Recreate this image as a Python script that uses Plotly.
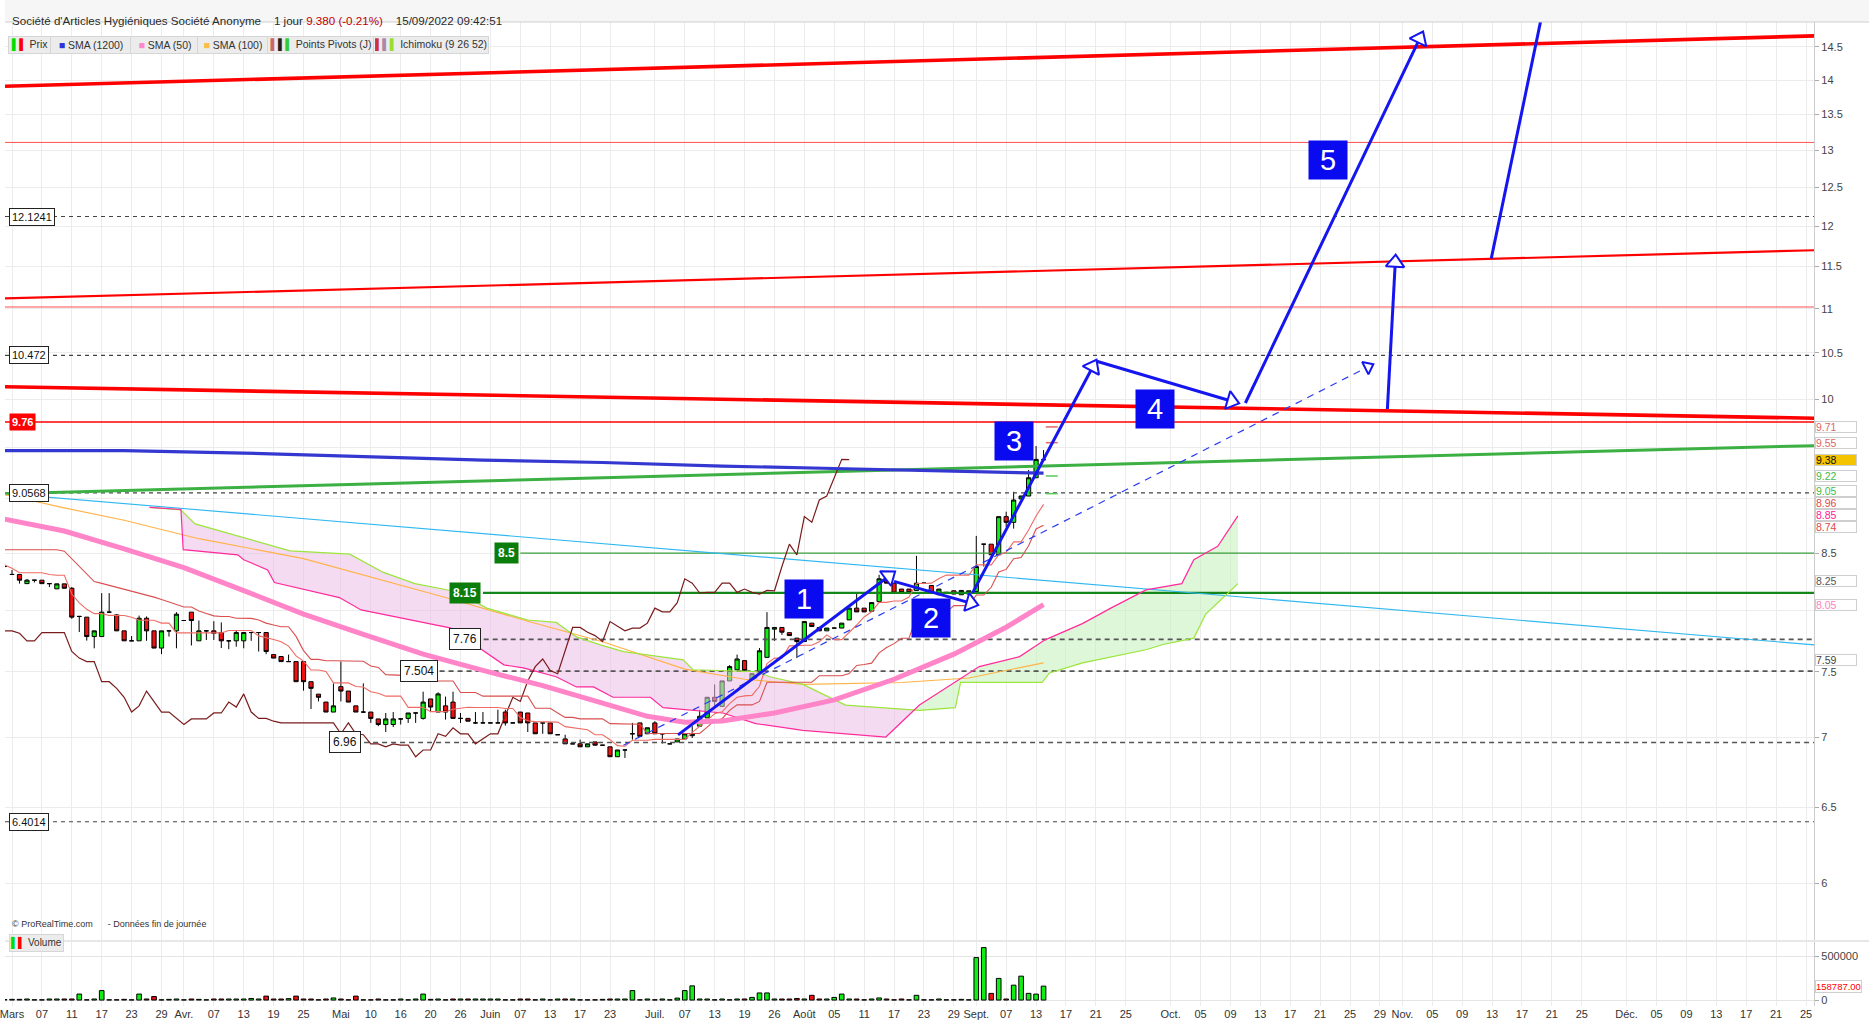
import numpy as np
import pandas as pd
import plotly.graph_objects as go

W, H = 1869, 1025

# ---------------- price data (one bar per trading session) ----------------
first_bar = -5
opens = [8.38, 8.31, 8.31, 8.23, 8.26, 8.26, 8.23, 8.185, 8.228, 8.19,
         7.95, 7.944, 7.783, 7.783, 7.986, 7.963, 7.83, 7.748, 7.748, 7.935,
         7.83, 7.689, 7.83, 7.83, 7.916, 7.986, 7.748, 7.83, 7.83, 7.816,
         7.748, 7.748, 7.748, 7.816, 7.816, 7.816, 7.636, 7.621, 7.58, 7.58,
         7.58, 7.421, 7.324, 7.263, 7.187, 7.382, 7.348, 7.234, 7.187, 7.187,
         7.135, 7.093, 7.093, 7.135, 7.139, 7.18, 7.139, 7.287, 7.187, 7.234,
         7.263, 7.139, 7.139, 7.105, 7.105, 7.105, 7.105, 7.187, 7.105, 7.187,
         7.18, 7.105, 7.105, 7.105, 7.017, 6.986, 6.95, 6.95, 6.928, 6.964,
         6.94, 6.928, 6.856, 6.905, 7.024, 7.105, 7.024, 7.105, 7.024, 6.95,
         6.964, 6.986, 7.01, 7.081, 7.143, 7.30, 7.23, 7.427, 7.515, 7.588,
         7.439, 7.494, 7.614, 7.844, 7.858, 7.815, 7.77, 7.742, 7.894, 7.858,
         7.83, 7.853, 7.853, 7.921, 8.02, 8.02, 7.994, 8.075, 8.26, 8.234,
         8.183, 8.183, 8.171, 8.234, 8.214, 8.134, 8.154, 8.168, 8.134, 8.14,
         8.162, 8.58, 8.58, 8.484, 8.833, 8.78, 9.0, 9.027, 9.203, 9.38]
highs = [8.42, 8.35, 8.31, 8.27, 8.26, 8.26, 8.23, 8.23, 8.228, 8.20,
         7.95, 7.944, 7.83, 8.148, 8.148, 7.97, 7.83, 7.787, 7.957, 7.95,
         7.83, 7.83, 7.83, 7.986, 7.916, 7.986, 7.916, 7.83, 7.91, 7.90,
         7.748, 7.83, 7.816, 7.816, 7.816, 7.816, 7.636, 7.621, 7.636, 7.58,
         7.58, 7.421, 7.324, 7.263, 7.408, 7.58, 7.348, 7.234, 7.408, 7.187,
         7.135, 7.18, 7.187, 7.135, 7.18, 7.18, 7.343, 7.287, 7.338, 7.305,
         7.343, 7.18, 7.139, 7.187, 7.187, 7.105, 7.205, 7.205, 7.105, 7.187,
         7.18, 7.105, 7.105, 7.105, 7.017, 7.017, 6.95, 6.981, 6.95, 6.964,
         6.94, 6.928, 6.905, 6.905, 7.105, 7.105, 7.069, 7.118, 7.024, 6.95,
         6.986, 7.024, 7.081, 7.205, 7.30, 7.40, 7.427, 7.552, 7.636, 7.588,
         7.484, 7.689, 7.986, 7.858, 7.858, 7.815, 7.77, 7.907, 7.894, 7.858,
         7.853, 7.853, 7.894, 8.02, 8.149, 8.02, 8.067, 8.307, 8.26, 8.234,
         8.183, 8.183, 8.475, 8.234, 8.214, 8.183, 8.154, 8.168, 8.171, 8.168,
         8.655, 8.58, 8.58, 8.833, 8.879, 9.068, 9.03, 9.278, 9.516, 9.476]
lows = [8.37, 8.31, 8.23, 8.23, 8.24, 8.23, 8.20, 8.185, 8.19, 7.93,
        7.82, 7.75, 7.687, 7.783, 7.98, 7.83, 7.748, 7.748, 7.748, 7.748,
        7.689, 7.64, 7.783, 7.687, 7.916, 7.71, 7.748, 7.755, 7.755, 7.689,
        7.68, 7.70, 7.687, 7.748, 7.661, 7.64, 7.608, 7.58, 7.58, 7.421,
        7.351, 7.21, 7.268, 7.187, 7.187, 7.268, 7.263, 7.187, 7.18, 7.105,
        7.081, 7.037, 7.074, 7.093, 7.105, 7.105, 7.13, 7.187, 7.187, 7.13,
        7.139, 7.105, 7.118, 7.10, 7.105, 7.105, 7.105, 7.085, 7.105, 7.105,
        7.037, 7.024, 7.024, 7.024, 7.017, 6.95, 6.95, 6.928, 6.928, 6.94,
        6.94, 6.856, 6.856, 6.847, 6.981, 7.005, 7.024, 7.024, 6.952, 6.95,
        6.964, 6.986, 6.993, 7.081, 7.143, 7.23, 7.23, 7.427, 7.515, 7.509,
        7.439, 7.494, 7.614, 7.748, 7.797, 7.791, 7.608, 7.742, 7.866, 7.83,
        7.83, 7.853, 7.853, 7.921, 7.988, 7.988, 7.994, 8.075, 8.234, 8.149,
        8.154, 8.154, 8.171, 8.234, 8.154, 8.134, 8.154, 8.14, 8.134, 8.14,
        8.162, 8.38, 8.484, 8.484, 8.737, 8.722, 9.0, 9.027, 9.203, 9.38]
closes = [8.38, 8.31, 8.26, 8.26, 8.26, 8.23, 8.23, 8.228, 8.19, 7.944,
          7.95, 7.783, 7.83, 7.986, 7.986, 7.83, 7.748, 7.748, 7.935, 7.83,
          7.689, 7.83, 7.83, 7.969, 7.916, 7.916, 7.83, 7.83, 7.81, 7.748,
          7.748, 7.816, 7.816, 7.816, 7.816, 7.661, 7.608, 7.58, 7.58, 7.421,
          7.421, 7.369, 7.30, 7.187, 7.234, 7.348, 7.263, 7.187, 7.187, 7.139,
          7.093, 7.135, 7.135, 7.135, 7.18, 7.18, 7.263, 7.225, 7.326, 7.187,
          7.139, 7.139, 7.118, 7.105, 7.105, 7.105, 7.105, 7.105, 7.105, 7.105,
          7.105, 7.024, 7.105, 7.024, 7.017, 6.95, 6.95, 6.928, 6.95, 6.94,
          6.94, 6.856, 6.905, 6.905, 7.024, 7.005, 7.069, 7.024, 7.024, 6.95,
          6.986, 7.024, 7.024, 7.155, 7.30, 7.268, 7.427, 7.54, 7.601, 7.509,
          7.484, 7.667, 7.858, 7.858, 7.819, 7.791, 7.742, 7.907, 7.866, 7.83,
          7.853, 7.853, 7.894, 8.02, 7.988, 7.988, 8.067, 8.272, 8.234, 8.149,
          8.154, 8.154, 8.234, 8.234, 8.154, 8.183, 8.154, 8.14, 8.171, 8.168,
          8.38, 8.58, 8.484, 8.833, 8.78, 8.989, 9.027, 9.203, 9.383, 9.38]
volumes = [6000, 8000, 8000, 12000, 3000, 3000, 12000, 12000, 12000, 12000,
           68000, 3000, 12000, 108000, 3000, 3000, 8000, 3000, 68000, 12000,
           40000, 3000, 8000, 12000, 3000, 12000, 8000, 3000, 12000, 12000,
           12000, 12000, 12000, 18000, 12000, 45000, 12000, 12000, 16000, 45000,
           12000, 12000, 3000, 12000, 24000, 12000, 3000, 45000, 3000, 3000,
           12000, 3000, 3000, 12000, 3000, 12000, 68000, 8000, 12000, 3000,
           12000, 12000, 12000, 12000, 12000, 12000, 12000, 3000, 3000, 12000,
           12000, 3000, 12000, 3000, 12000, 12000, 12000, 3000, 3000, 3000,
           8000, 12000, 12000, 12000, 108000, 3000, 12000, 3000, 12000, 3000,
           22000, 108000, 162000, 12000, 12000, 3000, 12000, 3000, 12000, 12000,
           30000, 81000, 81000, 12000, 12000, 12000, 18000, 12000, 54000, 12000,
           12000, 30000, 68000, 12000, 12000, 3000, 12000, 24000, 12000, 3000,
           12000, 3000, 54000, 3000, 3000, 12000, 3000, 3000, 8000, 3000,
           485000, 599000, 76000, 247000, 12000, 170000, 273000, 76000, 68000, 158787]

# ---------------- axis labels ----------------
tick_bars = [-4, 0, 4, 8, 12, 16, 19, 23, 27, 31, 35, 40, 44, 48, 52, 56, 60, 64, 68, 72, 76,
             82, 86, 90, 94, 98, 102, 106, 110, 114, 118, 122, 125, 129, 133, 137, 141, 145,
             151, 155, 159, 163, 167, 171, 175, 179, 182, 186, 190, 194, 198, 202, 206,
             212, 216, 220, 224, 228, 232, 236]
tick_labels = ["Mars", "07", "11", "17", "23", "29", "Avr.", "07", "13", "19", "25", "Mai", "10", "16",
               "20", "26", "Juin", "07", "13", "17", "23", "Juil.", "07", "13", "19", "26", "Août",
               "05", "11", "17", "23", "29", "Sept.", "07", "13", "17", "21", "25", "Oct.", "05",
               "09", "13", "17", "21", "25", "29", "Nov.", "05", "09", "13", "17", "21", "25",
               "Déc.", "05", "09", "13", "17", "21", "25"]
price_ticks = [6, 6.5, 7, 7.5, 8, 8.5, 9, 9.5, 10, 10.5, 11, 11.5, 12, 12.5, 13, 13.5, 14, 14.5]
price_tick_text = ["6", "6.5", "7", "7.5", "", "8.5", "", "", "10", "10.5", "11", "11.5", "12", "12.5",
                   "13", "13.5", "14", "14.5"]

# ---------------- indicators ----------------
sma1200_bars = [-5, 11, 27, 43, 59, 75, 91, 106, 122, 134]
sma1200 = [9.47, 9.47, 9.446, 9.411, 9.376, 9.352, 9.317, 9.293, 9.271, 9.247]
sma50_bars = [-5, 3, 11, 19, 27, 35, 43, 51, 59, 67, 75, 81, 86, 91, 98, 106, 114, 122, 129, 134]
sma50 = [8.81, 8.70, 8.538, 8.37, 8.17, 7.97, 7.80, 7.64, 7.51, 7.39, 7.255, 7.155, 7.11, 7.12,
         7.18, 7.28, 7.44, 7.64, 7.86, 8.05]
sma100_bars = [-5, 3, 11, 21, 35, 54, 65, 75, 86, 94, 102, 115, 124, 134]
sma100 = [9.04, 8.915, 8.80, 8.63, 8.45, 8.11, 7.91, 7.74, 7.52, 7.44, 7.40, 7.415, 7.45, 7.57]
ssa_bars = [14.4, 18.6, 20.5, 33.2, 41.2, 45.6, 49.9, 55.5, 59.5, 65, 68.8, 71.5, 74.7, 77.8, 85.8,
            87.1, 95.5, 97.4, 101.8, 107.5, 117.4, 122.2, 122.9, 133.8, 134.8, 139.2, 147.7,
            150.1, 154.1, 155.7, 160]
ssa = [8.92, 8.895, 8.765, 8.52, 8.49, 8.33, 8.23, 8.16, 8.02, 7.92, 7.90, 7.78, 7.715, 7.66, 7.594,
       7.515, 7.50, 7.46, 7.40, 7.24, 7.20, 7.22, 7.415, 7.415, 7.49, 7.57, 7.675, 7.72, 7.77, 7.97, 8.23]
ssb_bars = [14.4, 18.6, 18.9, 26.2, 27, 30.2, 31.1, 39.8, 42.7, 54.6, 61.8, 64.4, 68.8, 71.5, 73.8,
            76.4, 81.4, 83.1, 91.1, 95.5, 101.8, 112.9, 117.4, 122.2, 125.4, 130.8, 134.2, 139.2,
            143, 147.7, 152.5, 154.1, 157.3, 160]
ssb = [8.92, 8.90, 8.53, 8.484, 8.44, 8.35, 8.24, 8.11, 8.005, 7.855, 7.554, 7.53, 7.46, 7.38, 7.38,
       7.30, 7.30, 7.22, 7.18, 7.10, 7.05, 7.0, 7.24, 7.415, 7.54, 7.62, 7.756, 7.89, 8.02, 8.176,
       8.23, 8.44, 8.56, 8.84]
kijun_left_bars = [-5, 2.8, 6.9, 13.7, 18.1, 19]
kijun_left = [8.53, 8.53, 8.25, 8.14, 8.05, 8.03]

# drawn levels / trendlines
dashed_levels = [12.1241, 10.472, 9.0568, 6.4014]
short_levels = [7.76, 7.504, 6.96]
short_level_start = [59.1, 53.2, 43.1]
thin_red_levels = [13.11, 11.02]
red_level = 9.76
green_levels = [8.5, 8.15]
green_level_start = [64.0, 59.0]
trend_red_top = [13.91, 14.67]
trend_red_mid = [11.12, 11.70]
trend_red_low = [10.13, 9.80]
trend_green = [9.05, 9.52]
trend_cyan = [9.05, 7.715]
pivots = [9.71, 9.55, 9.22, 9.05]

# Elliott wave drawing (bar, price)
waves = [((85.1, 7.016), (114, 8.33)), ((114, 8.25), (125.1, 8.048)),
         ((124.5, 8.15), (141, 10.41)), ((141, 10.41), (160, 9.958)),
         ((161, 9.958), (184.7, 14.72)), ((180, 9.895), (181.1, 11.63))]
wave_plain = ((193.9, 11.60), (200.5, 14.90))
wave_dashed = ((77.8, 6.94), (178, 10.37))
wave_labels = ["1", "2", "3", "4", "5"]
wave_label_pos = [(102, 8.10), (119, 7.94), (130.1, 9.567), (148.9, 9.895), (172, 12.87)]

right_labels = [(9.71, "#e06666", "white", 0), (9.55, "#e06666", "white", 0), (9.38, "#111111", "#f5c400", 0),
                (9.22, "#44bb44", "white", 0), (9.05, "#44bb44", "white", 3), (8.96, "#e04848", "white", 0),
                (8.85, "#ff1493", "white", 0), (8.74, "#e04848", "white", 0), (8.25, "#555555", "white", 0),
                (8.05, "#ff80c0", "white", 0), (7.59, "#444444", "white", 0)]

# ---------------- geometry ----------------
X_DOM = [0, 1814 / W]
MAIN_DOM = [1 - 940 / H, 1 - 22 / H]
VOL_DOM = [1 - 1006 / H, 1 - 942 / H]
X_RANGE = [-4.937, 237.09]
Y_RANGE = [0.75208, 1.17279]
PXB = 1814 / (X_RANGE[1] - X_RANGE[0])
PXL = (940 - 22) / (Y_RANGE[1] - Y_RANGE[0])
XL, XR = X_RANGE

bars = np.arange(first_bar, first_bar + len(closes))
o = np.array(opens); h = np.array(highs); l = np.array(lows); c = np.array(closes)

# Ichimoku derived lines
tenkan = (pd.Series(h).rolling(9, min_periods=1).max() + pd.Series(l).rolling(9, min_periods=1).min()) / 2
kijun_calc = (pd.Series(h).rolling(26, min_periods=1).max() + pd.Series(l).rolling(26, min_periods=1).min()) / 2
kijun = np.where(bars >= 20, kijun_calc.values, np.interp(bars, kijun_left_bars, kijun_left))
chik_x = bars - 26
mask = chik_x >= first_bar

fig = go.Figure()

def line(xs, ys, color, width, dash=None, yaxis="y", xaxis="x", shape="linear"):
    fig.add_trace(go.Scatter(x=list(xs), y=list(ys), mode="lines", xaxis=xaxis, yaxis=yaxis,
                             line=dict(color=color, width=width, dash=dash, shape=shape),
                             hoverinfo="skip", showlegend=False))

# cloud fills
grid = np.linspace(ssa_bars[0], ssa_bars[-1], 800)
a = np.interp(grid, ssa_bars, ssa)
m = np.interp(grid, ssb_bars, ssb)
low = np.minimum(a, m)
fig.add_trace(go.Scatter(x=np.concatenate([grid, grid[::-1]]), y=np.concatenate([a, low[::-1]]),
                         fill="toself", fillcolor="rgba(236,190,232,0.55)", line=dict(width=0),
                         mode="lines", hoverinfo="skip", showlegend=False))
fig.add_trace(go.Scatter(x=np.concatenate([grid, grid[::-1]]), y=np.concatenate([m, low[::-1]]),
                         fill="toself", fillcolor="rgba(200,242,190,0.6)", line=dict(width=0),
                         mode="lines", hoverinfo="skip", showlegend=False))

# horizontal levels
for v in dashed_levels:
    line([XL, XR], [v, v], "#444444", 1.2, dash="4px,4px")
for v, s in zip(short_levels, short_level_start):
    line([s, XR], [v, v], "#555555", 1.6, dash="5px,4px")
for v in thin_red_levels:
    line([XL, XR], [v, v], "#ff5050", 1)
line([XL, XR], [red_level, red_level], "#ff0000", 1.6)
line([green_level_start[0], XR], [green_levels[0]] * 2, "#3d9e3d", 1.3)
line([green_level_start[1], XR], [green_levels[1]] * 2, "#15861a", 2.4)

# trendlines
line([XL, XR], trend_cyan, "#30b8f0", 1.1)
line([XL, XR], trend_red_top, "#ff0000", 3.6)
line([XL, XR], trend_red_mid, "#ff0000", 2.2)
line([XL, XR], trend_red_low, "#ff0000", 3.6)
line([XL, XR], trend_green, "#3cb043", 3.0)

# moving averages & ichimoku
line(sma100_bars, sma100, "#ffb347", 1.1)
line(ssa_bars, ssa, "#9be63a", 1.2)
line(ssb_bars, ssb, "#ff2a9d", 1.2)
line(chik_x[mask], c[mask], "#7a1c1c", 1.2)
line(bars, kijun, "#d94f4f", 1.1)
line(bars, tenkan.values, "#ef6b63", 1.1)
line(sma50_bars, sma50, "#ff85c8", 5)
line(sma1200_bars, sma1200, "#3538d0", 3.2)

# pivot dashes
for v, col in zip(pivots, ["#e06666", "#e06666", "#55cc55", "#55cc55"]):
    line([134.3, 135.9], [v, v], col, 1.5)

# candles
fig.add_trace(go.Candlestick(x=bars, open=o, high=h, low=l, close=c,
                             increasing=dict(fillcolor="#11ee11", line=dict(color="#000000", width=1)),
                             decreasing=dict(fillcolor="#ee1111", line=dict(color="#000000", width=1)),
                             whiskerwidth=0, hoverinfo="skip", showlegend=False))

# wave drawings
BLUE = "#1515f0"

def head(p0, p1, size=15):
    (b0, v0), (b1, v1) = p0, p1
    dx = (b1 - b0) * PXB
    dys = -(np.log10(v1) - np.log10(v0)) * PXL
    L = np.hypot(dx, dys)
    ux, uy = dx / L, dys / L
    ang = float(np.degrees(np.arctan2(dx, -dys)))
    off = size * 0.42
    bc = b1 - off * ux / PXB
    lc = np.log10(v1) + off * uy / PXL
    fig.add_trace(go.Scatter(x=[bc], y=[10 ** lc], mode="markers", hoverinfo="skip", showlegend=False,
                             marker=dict(symbol="triangle-up", size=size, angle=ang, color="white",
                                         line=dict(color=BLUE, width=2))))

line([wave_dashed[0][0], wave_dashed[1][0]], [wave_dashed[0][1], wave_dashed[1][1]], "#2a3cf0", 1.2, dash="7px,6px")
head(wave_dashed[0], wave_dashed[1], size=12)
for p0, p1 in waves:
    line([p0[0], p1[0]], [p0[1], p1[1]], BLUE, 3)
line([wave_plain[0][0], wave_plain[1][0]], [wave_plain[0][1], wave_plain[1][1]], BLUE, 3)
for p0, p1 in waves:
    head(p0, p1, size=16)

# volume
vcol = ["#11ee11" if cc >= oo else "#ee1111" for oo, cc in zip(opens, closes)]
fig.add_trace(go.Bar(x=bars, y=volumes, xaxis="x2", yaxis="y2", marker=dict(color=vcol, line=dict(color="black", width=1)),
                     width=0.62, hoverinfo="skip", showlegend=False))

FONT = "Liberation Sans, Arial, sans-serif"
NARROW = "Liberation Sans Narrow, Arial Narrow, Liberation Sans, sans-serif"
ann = []
# wave number boxes
for t, (bb, vv) in zip(wave_labels, wave_label_pos):
    ann.append(dict(x=bb, y=np.log10(vv), xref="x", yref="y", text=t, showarrow=False,
                    bgcolor="#0a0af0", width=36, height=36, font=dict(family=FONT, size=29, color="white")))
# left level boxes
for v, txt in zip(dashed_levels, ["12.1241", "10.472", "9.0568", "6.4014"]):
    ann.append(dict(x=4 / W, y=np.log10(v), xref="paper", yref="y", text=txt, showarrow=False, xanchor="left",
                    bgcolor="white", bordercolor="#222", borderwidth=1, borderpad=2,
                    font=dict(family=FONT, size=11, color="#111")))
for v, txt, bb in zip(short_levels, ["7.76", "7.504", "6.96"], [56.6, 50.4, 40.6]):
    ann.append(dict(x=bb, y=np.log10(v), xref="x", yref="y", text=txt, showarrow=False,
                    bgcolor="white", bordercolor="#222", borderwidth=1, borderpad=3,
                    font=dict(family=FONT, size=12, color="#111")))
ann.append(dict(x=4 / W, y=np.log10(red_level), xref="paper", yref="y", text="<b>9.76</b>", showarrow=False,
                xanchor="left", bgcolor="#ff0000", borderpad=2, font=dict(family=FONT, size=11, color="white")))
for v, txt, bb in zip(green_levels, ["<b>8.5</b>", "<b>8.15</b>"], [62.2, 56.6]):
    ann.append(dict(x=bb, y=np.log10(v), xref="x", yref="y", text=txt, showarrow=False,
                    bgcolor="#0b7d0b", borderpad=3, font=dict(family=FONT, size=12, color="white")))
# right value boxes
for v, col, bg, ys in right_labels:
    ann.append(dict(x=1815 / W, y=np.log10(v), xref="paper", yref="y", text=f"{v:.2f}", showarrow=False,
                    xanchor="left", align="left", width=40, height=10, bgcolor=bg, bordercolor="#cfcfcf",
                    borderwidth=1, borderpad=0, yshift=ys, font=dict(family=FONT, size=10.5, color=col)))
ann.append(dict(x=1815 / W, y=volumes[-1], xref="paper", yref="y2", text="158787.00", showarrow=False,
                xanchor="left", align="left", bgcolor="white", bordercolor="#cfcfcf", borderwidth=1,
                borderpad=0, font=dict(family=FONT, size=9.5, color="#ff0000")))
# header
ann.append(dict(x=5 / W, y=1 - 12 / H, xref="paper", yref="paper", xanchor="left", showarrow=False,
                text="Société d'Articles Hygiéniques Société Anonyme&nbsp;&nbsp;&nbsp;&nbsp;1 jour "
                     "<span style='color:#c00000'>9.380 (-0.21%)</span>&nbsp;&nbsp;&nbsp;&nbsp;15/09/2022 09:42:51",
                font=dict(family=FONT, size=11.6, color="#2a2a2a")))
# legend items (left edge px, width px)
legend_items = [("<span style='color:#00dd00'>▌</span><span style='color:#ff0000'>▌</span> Prix", 3, 40),
                ("<span style='color:#3333dd'>■</span> SMA (1200)", 45, 78),
                ("<span style='color:#ff88cc'>■</span> SMA (50)", 125, 66),
                ("<span style='color:#ffbb44'>■</span> SMA (100)", 193, 68),
                ("<span style='color:#cc6666'>▌</span><span style='color:#222'>▌</span><span style='color:#33cc33'>▌</span> Points Pivots (J)", 263, 104),
                ("<span style='color:#cc3333'>▌</span><span style='color:#aa88aa'>▌</span><span style='color:#99dd33'>▌</span> Ichimoku (9 26 52)", 369, 112)]
for txt, xpx, wpx in legend_items:
    ann.append(dict(x=xpx / W, y=1 - 36 / H, xref="paper", yref="paper", xanchor="left", showarrow=False,
                    text=txt, width=wpx, height=14, bgcolor="#ececec", bordercolor="#d6d6d6", borderwidth=1,
                    borderpad=1, font=dict(family=FONT, size=10.5, color="#333")))
ann.append(dict(x=4 / W, y=1 - 952 / H, xref="paper", yref="paper", xanchor="left", showarrow=False,
                text="<span style='color:#00dd00'>▌</span><span style='color:#ff0000'>▌</span> Volume",
                bgcolor="#ececec", bordercolor="#d6d6d6", borderwidth=1, borderpad=1,
                font=dict(family=FONT, size=10, color="#333")))
ann.append(dict(x=5 / W, y=1 - 931 / H, xref="paper", yref="paper", xanchor="left", showarrow=False,
                text="© ProRealTime.com&nbsp;&nbsp;&nbsp;&nbsp;&nbsp;&nbsp;- Données fin de journée",
                font=dict(family=FONT, size=9, color="#333")))

shapes = [
    dict(type="rect", xref="paper", yref="paper", x0=0, x1=1, y0=1 - 22 / H, y1=1,
         fillcolor="#f6f6f6", line=dict(width=0), layer="below"),
    dict(type="line", xref="paper", yref="paper", x0=0, x1=1, y0=1 - 22 / H, y1=1 - 22 / H,
         line=dict(color="#cfcfcf", width=1)),
    dict(type="line", xref="paper", yref="paper", x0=0, x1=1, y0=1 - 941 / H, y1=1 - 941 / H,
         line=dict(color="#cfcfcf", width=1)),
]

fig.update_layout(
    width=W, height=H, margin=dict(l=0, r=0, t=0, b=0),
    paper_bgcolor="white", plot_bgcolor="white", showlegend=False,
    annotations=ann, shapes=shapes, bargap=0.3, boxgap=0.2,
    xaxis=dict(domain=X_DOM, range=X_RANGE, anchor="y", tickvals=tick_bars, showticklabels=False,
               showgrid=True, gridcolor="#ececec", zeroline=False, rangeslider=dict(visible=False), ticks=""),
    yaxis=dict(domain=MAIN_DOM, type="log", range=Y_RANGE, side="right", anchor="x",
               tickvals=price_ticks, ticktext=price_tick_text,
               showgrid=True, gridcolor="#ececec", zeroline=False, ticks="outside", ticklen=4,
               tickcolor="#aaaaaa", showline=True, linecolor="#cccccc",
               tickfont=dict(family=FONT, size=11, color="#444")),
    xaxis2=dict(domain=X_DOM, range=X_RANGE, anchor="y2", matches="x", tickvals=tick_bars, ticktext=tick_labels,
                showgrid=True, gridcolor="#ececec", zeroline=False, ticks="", ticklabeloverflow="allow",
                tickfont=dict(family=NARROW, size=11, color="#333")),
    yaxis2=dict(domain=VOL_DOM, range=[-68000, 663000], side="right", anchor="x2",
                tickvals=[0, 500000], ticktext=["0", "500000"], showgrid=True, gridcolor="#e4e4e4",
                zeroline=False, ticks="outside", ticklen=4, tickcolor="#aaaaaa", showline=True,
                linecolor="#cccccc", tickfont=dict(family=FONT, size=11, color="#444")),
)

fig.write_html("out.html", config={"displayModeBar": False},
               post_script="document.body.style.margin='0';document.body.style.overflow='hidden';")
